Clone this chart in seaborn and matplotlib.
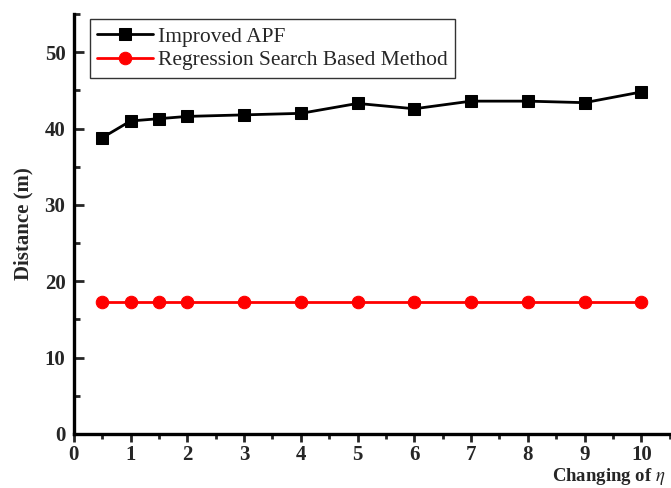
import pandas as pd
import seaborn as sns
import matplotlib.pyplot as plt
from matplotlib.ticker import MultipleLocator

# data
eta = [0.5, 1, 1.5, 2, 3, 4, 5, 6, 7, 8, 9, 10]
improved_apf = [38.8, 41.0, 41.3, 41.6, 41.8, 42.0, 43.3, 42.6, 43.6, 43.6, 43.4, 44.8]
regression = [17.3, 17.3, 17.3, 17.3, 17.3, 17.3, 17.3, 17.3, 17.3, 17.3, 17.3, 17.3]

df = pd.DataFrame({'eta': eta, 'apf': improved_apf, 'reg': regression})

sns.set_style('ticks')
plt.rcParams['font.family'] = ['Liberation Serif', 'DejaVu Serif']
plt.rcParams['mathtext.fontset'] = 'stix'

fig = plt.figure(figsize=(6.71, 4.88), dpi=100)
ax = fig.add_axes([0.110, 0.111, 0.888, 0.860])

sns.lineplot(data=df, x='eta', y='apf', ax=ax, color='black', marker='s',
             markersize=8.5, markeredgecolor='black', linewidth=2,
             label='Improved APF')
sns.lineplot(data=df, x='eta', y='reg', ax=ax, color='red', marker='o',
             markersize=9, markeredgecolor='red', linewidth=2,
             label='Regression Search Based Method')

ax.set_xlim(0, 10.5)
ax.set_ylim(0, 55)
ax.xaxis.set_major_locator(MultipleLocator(1))
ax.xaxis.set_minor_locator(MultipleLocator(0.5))
ax.yaxis.set_major_locator(MultipleLocator(10))
ax.yaxis.set_minor_locator(MultipleLocator(5))

sns.despine(ax=ax)
for s in ['left', 'bottom']:
    ax.spines[s].set_linewidth(2.4)
    ax.spines[s].set_color('black')

ax.tick_params(axis='x', which='major', direction='out', length=6, width=2, labelsize=15, pad=2)
ax.tick_params(axis='x', which='minor', direction='out', length=3.5, width=2)
ax.tick_params(axis='y', which='major', direction='in', length=7, width=2, labelsize=15, pad=6)
ax.tick_params(axis='y', which='minor', direction='in', length=4, width=2)
for lab in ax.get_xticklabels() + ax.get_yticklabels():
    lab.set_fontweight('bold')

ax.set_ylabel('Distance (m)', fontsize=15, fontweight='bold', labelpad=8)
ax.set_xlabel('')
fig.text(0.992, 0.002, r'Changing of $\eta$', ha='right', va='bottom',
         fontsize=13.5, fontweight='bold')

leg = ax.legend(loc='upper left', bbox_to_anchor=(0.027, 0.988), fontsize=15.5,
                frameon=True, fancybox=False, edgecolor='black',
                handlelength=2.6, handletextpad=0.2, borderpad=0.35,
                labelspacing=0.15, borderaxespad=0)
leg.get_frame().set_linewidth(1.0)

fig.savefig('out.png', dpi=100)
